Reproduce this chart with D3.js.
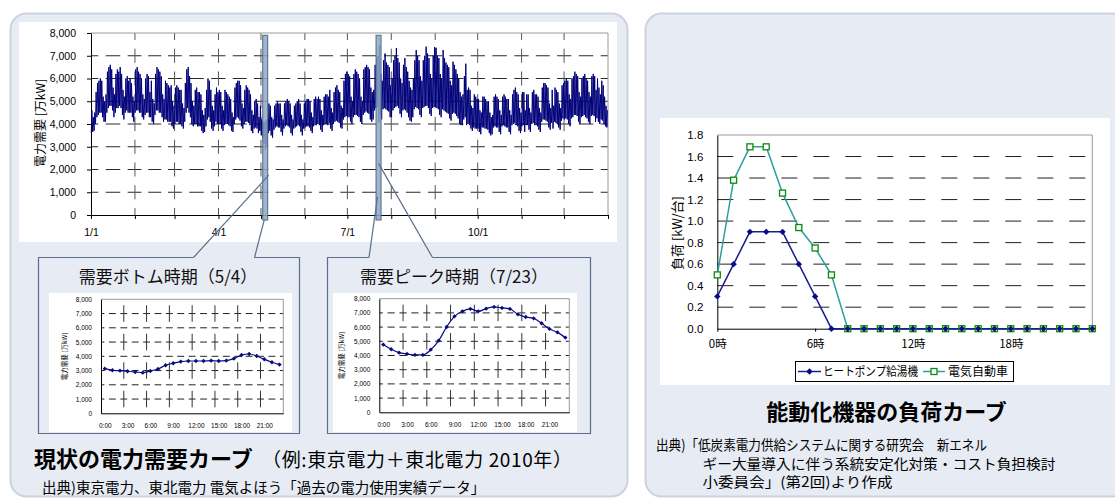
<!DOCTYPE html>
<html><head><meta charset="utf-8">
<script src="https://cdn.jsdelivr.net/npm/d3@7"></script>
<style>
body{margin:0;background:#fff;}
svg{display:block;}
.num{font-family:"Liberation Sans",Arial,sans-serif;}
.jp{font-family:"Noto Sans CJK JP",sans-serif;}
</style></head><body>
<svg id="c" width="1115" height="502"></svg>
<script>
// ---- annual demand, 2010 (TEPCO + Tohoku), 万kW: daily peak / daily low ----
const monthDays = [31,28,31,30,31,30,31,31,30,31,30,31];
const dailyPeak = [
 4600,4300,4500,5400,5800,5900,6000,5900,5200,5000,5300,6300,6500,6600,6400,5600,5300,6200,6400,6300,6500,6200,5500,5200,6000,6100,5900,6000,5800,5200,5000,
 6400,6500,6300,6200,6000,5300,5100,6000,6200,6100,5400,5900,5100,4900,6200,6500,6400,6300,6100,5300,5100,5900,5800,5700,5600,5700,5000,4800,
 5600,5700,5600,5500,5500,4900,4700,5800,6400,6500,6100,5800,5000,4800,5500,5600,5400,5400,5300,4600,4400,4700,5500,6000,5900,5500,4800,4600,5300,5600,5400,
 5500,5400,4800,4600,5500,5400,5300,5200,5100,4500,4300,5600,5800,5900,5900,5700,4900,4700,5500,5700,5600,5500,5300,4600,4400,5000,5100,4900,4300,4800,
 4200,4100,4100,4200,4200,4900,4800,4300,4200,4800,4900,5000,4900,4900,4400,4200,4900,5000,5100,5000,4900,4400,4200,4800,4900,5000,5100,4900,4400,4200,4900,
 5000,5100,5100,5000,4500,4300,5100,5200,5100,5200,5100,4600,4400,5200,5300,5300,5200,5500,4700,4500,5400,5600,5700,5500,5400,4800,4700,5900,6200,6300,
 6200,6100,5200,5000,6200,6400,6300,6200,6000,5200,5000,6400,6500,6600,6500,6400,5600,5400,5500,6600,6900,7000,7450,6200,5900,6800,7100,6700,6600,6500,5700,
 6000,6800,7000,7340,6900,6700,6000,5800,6600,6900,6500,6300,5900,5600,5500,6000,6800,7250,7000,6800,6100,5900,6800,7000,7400,7100,6900,6200,6000,7000,7380,
 7350,7000,6900,6200,6000,7250,6900,6700,6600,6500,5900,5700,6740,6600,6400,6200,6000,5400,5200,5300,6100,6650,5500,5600,5500,4800,4700,5300,5200,5100,
 5100,4600,4500,5200,5200,5100,5000,5000,4500,4300,4400,5200,5300,5200,5100,4600,4400,5200,5300,5200,5100,5100,4600,4400,5300,5500,5600,5400,5300,4700,4500,
 5400,5400,4600,5300,5300,4700,4500,5400,5500,5300,5300,5200,4700,4500,5600,5800,5800,5700,5600,4900,4700,5500,4800,5600,5500,5400,4900,4700,5700,5800,
 5900,6000,5900,5300,5100,6000,6100,6300,6200,6100,5400,5200,6000,6100,6200,6000,5900,5400,5200,6100,6200,6100,5500,6000,5600,5300,5900,5700,5200,4800,4600
];
const dailyLow = [
 3600,3650,3700,4000,4300,4400,4500,4500,4300,4100,4100,4500,4700,4800,4800,4600,4300,4500,4700,4700,4800,4700,4400,4200,4500,4600,4500,4500,4500,4300,4100,
 4500,4600,4600,4500,4500,4300,4200,4400,4500,4500,4300,4300,4100,4000,4400,4600,4600,4500,4500,4300,4100,4200,4200,4100,4100,4100,3900,3800,
 4000,4100,4100,4000,4000,3900,3800,4100,4500,4700,4500,4300,4000,3900,4000,4000,3900,3900,3900,3700,3600,3650,3900,4200,4300,4100,3800,3700,3900,4100,4000,
 4000,4000,3800,3700,3950,4000,4000,3950,3900,3700,3650,4000,4200,4300,4250,4150,3900,3800,4000,4100,4100,4050,3950,3700,3600,3800,3850,3800,3600,3700,
 3500,3400,3150,2880,3000,3600,3700,3500,3400,3750,3850,3900,3850,3850,3650,3500,3800,3900,3950,3900,3850,3600,3500,3800,3850,3900,3950,3900,3650,3500,3800,
 3850,3900,3900,3850,3700,3600,3900,3950,3950,4000,3950,3750,3650,3950,4000,4000,3950,4050,3800,3700,4000,4100,4150,4100,4050,3850,3800,4200,4300,4350,
 4300,4300,4100,4000,4300,4400,4400,4350,4300,4100,4000,4400,4500,4550,4500,4450,4200,4100,4200,4600,4700,4750,4050,4400,4200,4650,4700,4650,4600,4550,4300,
 4300,4600,4700,4750,4800,4700,4450,4300,4600,4650,4600,4500,4300,4150,4100,4300,4650,4750,4700,4650,4400,4300,4700,4750,4800,4800,4700,4450,4350,4700,4750,
 4750,4700,4650,4400,4300,4650,4600,4550,4500,4450,4250,4150,4450,4500,4450,4350,4250,4000,3950,3950,4200,4300,3950,4000,3950,3800,3700,3850,3800,3800,
 3800,3650,3550,3850,3850,3800,3800,3750,3600,3500,3550,3850,3900,3850,3850,3650,3550,3900,3950,3900,3850,3850,3650,3550,3950,4000,4050,3950,3900,3700,3600,
 3900,3950,3650,3950,3950,3750,3650,4000,4050,3950,3950,3900,3750,3650,4100,4200,4200,4150,4100,3850,3750,4050,3800,4100,4050,4000,3850,3750,4150,4250,
 4200,4250,4200,4000,3900,4250,4300,4400,4400,4350,4100,4000,4300,4350,4400,4300,4250,4100,4000,4350,4400,4350,4100,4250,4100,4000,4200,4150,4000,3900,3850
];
const demandTicks = [0,1000,2000,3000,4000,5000,6000,7000,8000];
const quarterLabels = ["1/1","4/1","7/1","10/1"];
const quarterMonths = [0,3,6,9];
const highlightDays = [{label:"5/4", day:123}, {label:"7/23", day:203}];

// ---- hourly demand on the two highlighted days (万kW) ----
const hourIndex = [0,1,2,3,4,5,6,7,8,9,10,11,12,13,14,15,16,17,18,19,20,21,22,23];
const hourLabels = ["0:00","3:00","6:00","9:00","12:00","15:00","18:00","21:00"];
const hourLabelAt = [0,3,6,9,12,15,18,21];
const bottomDay = [3130,3020,2990,2950,2900,2850,2970,3110,3370,3510,3630,3670,3670,3670,3700,3670,3700,3840,4090,4160,4020,3790,3580,3420];
const peakDay   = [4770,4440,4200,4110,4040,4040,4410,5050,6010,6760,7110,7280,7110,7300,7420,7350,7280,6900,6710,6620,6270,5870,5630,5260];

// ---- load curves of controllable appliances (kW per unit) ----
const loadHours = hourIndex;
const heatPumpLoad = [0.3,0.6,0.9,0.9,0.9,0.6,0.3,0,0,0,0,0,0,0,0,0,0,0,0,0,0,0,0,0];
const evLoad       = [0.5,1.38,1.69,1.69,1.26,0.94,0.75,0.5,0,0,0,0,0,0,0,0,0,0,0,0,0,0,0,0];
const loadTicks = [0,0.2,0.4,0.6,0.8,1.0,1.2,1.4,1.6,1.8];
const loadHourTicks = [0,6,12,18];
const loadHourLabels = ["0時","6時","12時","18時"];
const seriesNames = ["ヒートポンプ給湯機","電気自動車"];

const NAVY = "#0a0a82";
const svg = d3.select("#c");

// dashed row: one dash centred on every column line and one midway
function hDashRow(g, xs, yy, frac, color){
  for(let i=0;i<xs.length-1;i++){
    const a=xs[i], b=xs[i+1], W=b-a, D=W*frac, gap=(W-2*D)/2;
    g.append("line").attr("x1",a).attr("x2",b).attr("y1",yy).attr("y2",yy)
      .attr("stroke",color).attr("stroke-width",1)
      .attr("stroke-dasharray",`${D/2},${gap},${D},${gap},${D/2}`);
  }
}
// dashed column: one dash centred on every listed row position
function vDashCol(g, xx, ys, frac, color){
  for(let i=0;i<ys.length-1;i++){
    const a=ys[i], b=ys[i+1], H=Math.abs(b-a), D=H*frac, gap=H-D;
    g.append("line").attr("x1",xx).attr("x2",xx).attr("y1",a).attr("y2",b)
      .attr("stroke",color).attr("stroke-width",1)
      .attr("stroke-dasharray",`${D/2},${gap},${D/2}`);
  }
}
function styleAxis(sel, size){
  sel.attr("font-family","Liberation Sans, Arial, sans-serif").attr("font-size",size);
  sel.selectAll("text").attr("fill","#000");
  sel.selectAll("line").attr("stroke","#000");
  sel.select(".domain").attr("stroke","#000");
}

// ---- background panels ----
svg.append("rect").attr("x",10.5).attr("y",13.5).attr("width",617).attr("height",483).attr("rx",16)
  .attr("fill","#e7ebf3").attr("stroke","#ccd3df").attr("stroke-width",2);
svg.append("rect").attr("x",645.5).attr("y",13.5).attr("width",500).attr("height",483).attr("rx",16)
  .attr("fill","#e7ebf3").attr("stroke","#ccd3df").attr("stroke-width",2);

// ---- annual demand chart ----
const mx = d3.scaleLinear([0,365],[91,608]);
const my = d3.scaleLinear([0,8000],[215,33]);
const monthStarts = Array.from(d3.cumsum([0,...monthDays]));
const main = svg.append("g");
main.append("rect").attr("x",19).attr("y",22).attr("width",598).attr("height",220).attr("fill","#fff");
const monthX = monthStarts.map(mx);
demandTicks.slice(1,-1).forEach(v=>hDashRow(main, monthX, my(v), 0.33, "#2a2a2a"));
monthStarts.slice(1,-1).forEach(d=>vDashCol(main, mx(d), demandTicks.map(my), 0.62, "#555"));
main.append("path").attr("d",`M${mx(0)},${my(8000)}H${mx(365)}V${my(0)}`)
  .attr("fill","none").attr("stroke","#9a9a9a");
main.append("g").attr("transform",`translate(${mx(0)},0)`)
  .call(d3.axisLeft(my).tickValues(demandTicks).tickFormat(d3.format(",")).tickSize(4).tickSizeOuter(0).tickPadding(11))
  .call(s=>styleAxis(s,10.5));
main.append("g").attr("transform",`translate(0,${my(0)})`)
  .call(d3.axisBottom(mx).tickValues(monthStarts).tickSize(4).tickSizeOuter(0).tickPadding(10)
    .tickFormat(d=>{const k=quarterMonths.indexOf(monthStarts.indexOf(d)); return k>=0?quarterLabels[k]:"";}))
  .call(s=>styleAxis(s,10.5));
main.append("text").attr("class","jp").attr("transform",`translate(39.5,123) rotate(-90)`)
  .attr("text-anchor","middle").attr("dominant-baseline","central").attr("font-size",12).text("電力需要 [万kW]");

const annualPts = [];
dailyLow.forEach((lo,d)=>{ annualPts.push([d+0.2, lo]); annualPts.push([d+0.6, dailyPeak[d]]); });
main.append("path").datum(annualPts)
  .attr("d", d3.line().x(p=>mx(p[0])).y(p=>my(p[1])))
  .attr("fill","none").attr("stroke","#00007a").attr("stroke-width",1).attr("stroke-linejoin","round");

// highlighted days
highlightDays.forEach(h=>{
  main.append("rect").attr("x",mx(h.day)-2.5).attr("y",my(7900)).attr("width",5).attr("height",my(-220)-my(7900))
    .attr("fill","#8fa8c4").attr("fill-opacity",0.85).attr("stroke","#4d6a8c").attr("stroke-width",1);
});

// ---- callout boxes for the two days ----
const CALL = "#5a6f8e";
function calloutBox(x0,x1,top,bottom,g0,g1,tip0,tip1){
  svg.append("path").attr("d",`M${g0},${top}H${x0}V${bottom}H${x1}V${top}H${g1}`)
    .attr("fill","none").attr("stroke",CALL).attr("stroke-width",1.2);
  svg.append("line").attr("x1",g0).attr("y1",top).attr("x2",tip0[0]).attr("y2",tip0[1]).attr("stroke",CALL).attr("stroke-width",1.2);
  svg.append("line").attr("x1",g1).attr("y1",top).attr("x2",tip1[0]).attr("y2",tip1[1]).attr("stroke",CALL).attr("stroke-width",1.2);
}
const b0 = mx(highlightDays[0].day), b1 = mx(highlightDays[1].day);
calloutBox(38.5,299.5,257.5,433.5,193.5,254.5,[b0+3.5,my(1750)],[b0-1,my(-220)]);
calloutBox(327.5,590.5,257.5,433.5,369,432.5,[b1-1,my(800)],[b1,my(2270)]);

// ---- hourly inset charts ----
function inset(cfg){
  const g = svg.append("g");
  g.append("rect").attr("x",cfg.wx).attr("y",293).attr("width",cfg.ww).attr("height",139).attr("fill","#fff");
  g.append("text").attr("class","jp").attr("x",cfg.tx).attr("y",283).attr("text-anchor","middle")
    .attr("font-size",17).attr("fill","#111").text(cfg.title);
  const x = d3.scaleLinear([0,24],[cfg.px0,cfg.px1]);
  const y = d3.scaleLinear([0,8000],[cfg.py0,cfg.py1]);
  const colX = d3.range(0,25,3).map(x);
  demandTicks.slice(1,-1).forEach(v=>hDashRow(g, colX, y(v), 0.3, "#222"));
  colX.slice(1,-1).forEach(cx=>{
    const ys=[y(0),y(2000),y(4000),y(6000),y(8000)];
    for(let i=0;i<ys.length-1;i++){
      const a=ys[i], b=ys[i+1], H=a-b, D=H*0.58, gap=(H-D)/2;
      g.append("line").attr("x1",cx).attr("x2",cx).attr("y1",a).attr("y2",b).attr("stroke","#333")
        .attr("stroke-dasharray",`0,${gap},${D},${gap}`);
    }
  });
  g.append("path").attr("d",`M${cfg.px0},${cfg.py1}H${cfg.px1}V${cfg.py0}`).attr("fill","none").attr("stroke","#9a9a9a");
  g.append("g").attr("transform",`translate(${cfg.px0},0)`)
    .call(d3.axisLeft(y).tickValues(demandTicks).tickFormat(d3.format(",")).tickSize(0).tickPadding(9))
    .call(s=>styleAxis(s,6.5));
  g.append("g").attr("transform",`translate(0,${cfg.py0})`)
    .call(d3.axisBottom(x).tickValues(hourLabelAt.map(h=>h+0.5)).tickSize(0).tickPadding(10)
      .tickFormat((d,i)=>hourLabels[i]))
    .call(s=>styleAxis(s,6.5));
  g.append("text").attr("class","jp").attr("transform",`translate(${cfg.px0-cfg.ytOff},${(cfg.py0+cfg.py1)/2}) rotate(-90)`)
    .attr("text-anchor","middle").attr("dominant-baseline","central").attr("font-size",6.5).text("電力需要 [万kW]");
  g.append("path").datum(cfg.values)
    .attr("d", d3.line().x((v,i)=>x(hourIndex[i]+0.5)).y(v=>y(v)).curve(d3.curveMonotoneX))
    .attr("fill","none").attr("stroke",NAVY).attr("stroke-width",1.2);
  g.selectAll(".pt").data(cfg.values).join("path").attr("class","pt")
    .attr("d", d3.symbol(d3.symbolDiamond2, 12)())
    .attr("transform",(v,i)=>`translate(${x(hourIndex[i]+0.5)},${y(v)})`).attr("fill",NAVY);
}
inset({wx:49, ww:243, tx:168, title:"需要ボトム時期（5/4）", px0:101, px1:283.3, py0:413.3, py1:299.3, ytOff:36.7, values:bottomDay});
inset({wx:333, ww:244, tx:454, title:"需要ピーク時期（7/23）", px0:379.3, px1:569.3, py0:412.3, py1:298.7, ytOff:38.3, values:peakDay});

// ---- left panel captions ----
svg.append("text").attr("class","jp").attr("x",34).attr("y",467).attr("font-size",22).attr("font-weight","bold")
  .text("現状の電力需要カーブ");
svg.append("text").attr("class","jp").attr("x",262).attr("y",467).attr("font-size",19)
  .attr("textLength",310).attr("lengthAdjust","spacing")
  .text("（例:東京電力＋東北電力 2010年）");
svg.append("text").attr("class","jp").attr("x",42).attr("y",493).attr("font-size",14.5)
  .text("出典)東京電力、東北電力 電気よほう「過去の電力使用実績データ」");

// ---- load curve chart ----
const lg = svg.append("g");
lg.append("rect").attr("x",660).attr("y",118).attr("width",450).attr("height",267).attr("fill","#fff");
const lx = d3.scaleLinear([0,23],[717.3,1092.3]);
const ly = d3.scaleLinear([0,1.8],[328.7,135]);
loadTicks.slice(1,-1).forEach(v=>{
  lg.append("line").attr("x1",lx(0)).attr("x2",lx(23)).attr("y1",ly(v)).attr("y2",ly(v))
    .attr("stroke","#222").attr("stroke-dasharray","16,16");
});
lg.append("path").attr("d",`M${lx(0)},${ly(1.8)}H${lx(23)}V${ly(0)}`).attr("fill","none").attr("stroke","#9a9a9a");
lg.append("g").attr("transform",`translate(${lx(0)},0)`)
  .call(d3.axisLeft(ly).tickValues(loadTicks).tickFormat(d3.format(".1f")).tickSize(0).tickPadding(14))
  .call(s=>styleAxis(s,11.5));
lg.append("g").attr("transform",`translate(0,${ly(0)})`)
  .call(d3.axisBottom(lx).tickValues(loadHourTicks).tickSize(3).tickSizeOuter(0).tickPadding(8)
    .tickFormat((d,i)=>loadHourLabels[i]))
  .call(s=>styleAxis(s,11.5));
lg.selectAll("g.tick text").filter(function(){return /時/.test(this.textContent);}).attr("font-family","Noto Sans CJK JP, sans-serif").attr("font-size",11.5);
lg.append("text").attr("class","jp").attr("transform",`translate(676.5,233) rotate(-90)`)
  .attr("text-anchor","middle").attr("dominant-baseline","central").attr("font-size",13).text("負荷 [kW/台]");

const EVC = "#2aa0a0", EVM = "#0a8a0a";
const lineGen = d3.line().x((v,i)=>lx(loadHours[i])).y(v=>ly(v));
lg.append("path").datum(evLoad).attr("d",lineGen).attr("fill","none").attr("stroke",EVC).attr("stroke-width",1.5);
lg.append("path").datum(heatPumpLoad).attr("d",lineGen).attr("fill","none").attr("stroke","#1c1c90").attr("stroke-width",1.5);
lg.selectAll(".ev").data(evLoad).join("rect").attr("class","ev")
  .attr("x",(v,i)=>lx(loadHours[i])-3).attr("y",v=>ly(v)-3).attr("width",6).attr("height",6)
  .attr("fill","#fff").attr("stroke",EVM).attr("stroke-width",1.3);
lg.selectAll(".hp").data(heatPumpLoad).join("path").attr("class","hp")
  .attr("d", d3.symbol(d3.symbolDiamond2, 26)())
  .attr("transform",(v,i)=>`translate(${lx(loadHours[i])},${ly(v)})`).attr("fill",NAVY);

// legend
lg.append("rect").attr("x",795.5).attr("y",361.5).attr("width",218).attr("height",20).attr("fill","#fff").attr("stroke","#000");
lg.append("line").attr("x1",798).attr("x2",821).attr("y1",371.5).attr("y2",371.5).attr("stroke","#1c1c90").attr("stroke-width",1.5);
lg.append("path").attr("d",d3.symbol(d3.symbolDiamond2,26)()).attr("transform","translate(809.5,371.5)").attr("fill",NAVY);
lg.append("text").attr("class","jp").attr("x",823).attr("y",376).attr("font-size",12).attr("textLength",95).attr("lengthAdjust","spacingAndGlyphs").text(seriesNames[0]);
lg.append("line").attr("x1",923).attr("x2",945).attr("y1",371.5).attr("y2",371.5).attr("stroke",EVC).attr("stroke-width",1.5);
lg.append("rect").attr("x",931).attr("y",368.5).attr("width",6).attr("height",6).attr("fill","#fff").attr("stroke",EVM).attr("stroke-width",1.3);
lg.append("text").attr("class","jp").attr("x",948).attr("y",376).attr("font-size",12).text(seriesNames[1]);

// ---- right panel captions ----
svg.append("text").attr("class","jp").attr("x",886.5).attr("y",420).attr("text-anchor","middle")
  .attr("font-size",22).attr("font-weight","bold").text("能動化機器の負荷カーブ");
const srcLines = [
  {x:656, y:450, w:331, t:"出典)「低炭素電力供給システムに関する研究会　新エネル"},
  {x:702.5, y:469, w:353, t:"ギー大量導入に伴う系統安定化対策・コスト負担検討"},
  {x:702.5, y:487, w:190, t:"小委員会」(第2回)より作成"}
];
srcLines.forEach(l=>{
  svg.append("text").attr("class","jp").attr("x",l.x).attr("y",l.y).attr("font-size",14)
    .attr("textLength",l.w).attr("lengthAdjust","spacingAndGlyphs").text(l.t);
});
</script>
</body></html>
